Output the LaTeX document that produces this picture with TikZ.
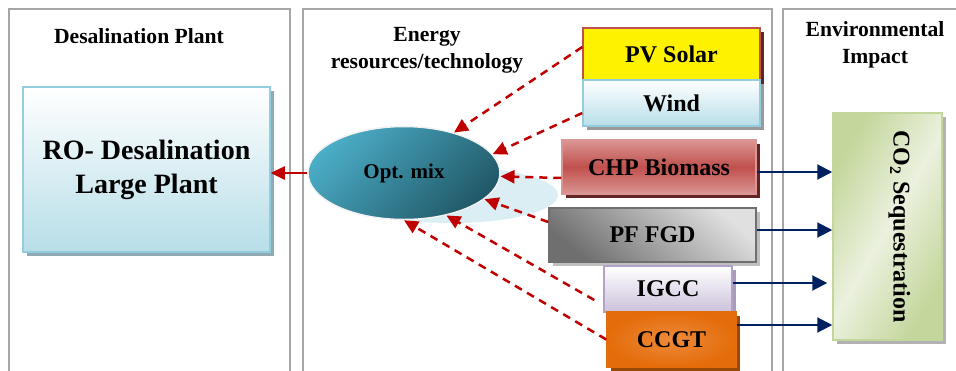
\documentclass[tikz,border=0pt]{standalone}
\usepackage{fontspec}
\setmainfont{Liberation Serif}
\usetikzlibrary{shapes.geometric, shadows, arrows.meta}

\definecolor{framegray}{HTML}{A6A6A6}
\definecolor{linkred}{HTML}{C00000}
\definecolor{linkblue}{HTML}{002060}
\definecolor{aqualight}{HTML}{B7DEE8}
\definecolor{aquaborder}{HTML}{93CDDD}
\definecolor{aquashadow}{HTML}{8FAAB5}
\definecolor{tealmid}{HTML}{4BACC6}
\definecolor{tealdark}{HTML}{215968}
\definecolor{tealshade}{HTML}{DAEEF3}
\definecolor{brickred}{HTML}{C0504D}
\definecolor{bricklight}{HTML}{DA9694}
\definecolor{brickdark}{HTML}{632523}
\definecolor{graylight}{HTML}{E0E0E0}
\definecolor{graydark}{HTML}{6F6F6F}
\definecolor{lilac}{HTML}{CCC1DA}
\definecolor{lilacborder}{HTML}{B3A2C7}
\definecolor{orangemid}{HTML}{E46C0A}
\definecolor{orangelight}{HTML}{EE8A3A}
\definecolor{orangedark}{HTML}{984807}
\definecolor{olivelight}{HTML}{EBF1DE}
\definecolor{olivemid}{HTML}{C3D69B}

\begin{document}
\begin{tikzpicture}[x=0.5pt, y=-0.5pt,
    panel/.style = {draw=framegray, line width=0.75pt},
    title/.style = {font=\fontsize{10.8}{13.5}\selectfont\bfseries, align=center},
    box/.style = {draw, line width=0.75pt, inner sep=0pt, align=center, font=\fontsize{12}{14}\selectfont\bfseries},
    boxshadow/.style = {drop shadow={shadow xshift=1.75pt, shadow yshift=-1.75pt, fill=#1, opacity=1}},
    red link/.style = {linkred, line width=1.25pt, dash pattern=on 4pt off 3pt, -{Triangle[length=7pt, width=6.5pt]}},
    blue link/.style = {linkblue, line width=1pt, -{Triangle[length=7.5pt, width=7.5pt]}}]
    \useasboundingbox (0,0) rectangle (956,370);
    \clip (0,0) rectangle (956,370);

    \draw[panel] (9,380) -- (9,9) -- (290,9) -- (290,380);
    \draw[panel] (303,380) -- (303,9) -- (772,9) -- (772,380);
    \draw[panel] (783,380) -- (783,9) -- (970,9);

    \node[title] (desal) at (139,36) {Desalination Plant};
    \node[title] (energy) at (427,50) {Energy\\resources/technology};
    \node[title] (env) at (875,45) {Environmental\\Impact};

    \node[box, boxshadow=aquashadow, top color=white, bottom color=aqualight, draw=aquaborder,
        minimum width=123.5pt, minimum height=82.5pt, font=\fontsize{14}{17}\selectfont\bfseries] (ro) at (146.5,169.5) {RO- Desalination\\Large Plant};

    \fill[tealshade] (452,195) ellipse [x radius=106, y radius=28];
    \node[ellipse, draw=white!90!gray, line width=0.75pt, top color=tealmid, bottom color=tealdark, shading angle=45,
        minimum width=96pt, minimum height=46.5pt, inner sep=0pt, font=\fontsize{10.5}{12}\selectfont\bfseries] (opt) at (404,173) {Opt. mix};

    \node[box, boxshadow=brickdark, fill=yellow, draw=brickred, minimum width=88.5pt, minimum height=26pt] (pv) at (671.5,54) {PV Solar};
    \node[box, boxshadow=graydark!70, top color=white, bottom color=aqualight, draw=aquaborder, minimum width=88.5pt, minimum height=23pt] (wind) at (671.5,103) {Wind};
    \node[box, boxshadow=brickdark, top color=bricklight, bottom color=bricklight, middle color=brickred, draw=bricklight, minimum width=97pt, minimum height=27pt] (chp) at (659,167) {CHP Biomass};
    \node[box, boxshadow=gray!50, top color=graylight, bottom color=graydark, shading angle=-40, draw=graydark, minimum width=103.5pt, minimum height=27pt] (pf) at (652.5,235) {PF FGD};
    \node[box, boxshadow=lilacborder!80!gray, top color=white, bottom color=lilac, draw=lilacborder, minimum width=64pt, minimum height=23pt] (igcc) at (668,289) {IGCC};
    \node[box, boxshadow=orangedark, inner color=orangelight, outer color=orangemid, draw=orangemid, minimum width=64.5pt, minimum height=27.5pt] (ccgt) at (671.5,339.5) {CCGT};

    \node[box, boxshadow=gray!60, left color=olivemid, right color=olivemid, middle color=olivelight, shading angle=60, draw=olivemid, minimum width=54.5pt, minimum height=113.5pt] (co2) at (887.5,226.5) {};
    \node[rotate=-90, font=\fontsize{12}{14}\selectfont\bfseries] (co2text) at ([xshift=6pt]co2.center) {CO\textsubscript{2} Sequestration};

    \draw[red link, solid] (opt.west) -- (opt.west -| ro.east);
    \draw[red link] ([yshift=3.5pt]pv.west) -- (opt.39);
    \draw[red link] ([yshift=-5pt]wind.west) -- (opt.12);
    \draw[red link] ([yshift=-5.5pt]chp.west) -- (opt.-2);
    \draw[red link] ([yshift=6.5pt]pf.west) -- (opt.-18);
    \draw[red link] ([xshift=-4.5pt, yshift=-5.5pt]igcc.west) -- (opt.-45);
    \draw[red link] (ccgt.west) -- (opt.-90);

    \draw[blue link] ([yshift=-2.5pt]chp.east) -- ([yshift=-2.5pt]chp.east -| co2.west);
    \draw[blue link] ([yshift=2.5pt]pf.east) -- ([yshift=2.5pt]pf.east -| co2.west);
    \draw[blue link] ([yshift=3pt]igcc.east) -- ([xshift=-2.5pt, yshift=3pt]igcc.east -| co2.west);
    \draw[blue link] ([yshift=7.25pt]ccgt.east) -- ([yshift=7.25pt]ccgt.east -| co2.west);
\end{tikzpicture}
\end{document}
